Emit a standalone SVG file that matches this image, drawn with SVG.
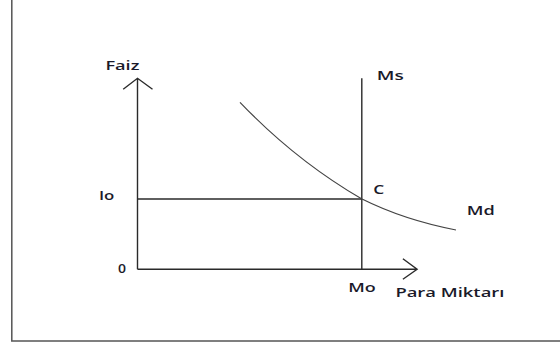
<svg xmlns="http://www.w3.org/2000/svg" width="560" height="346" viewBox="0 0 560 346">
<style>
.ax{stroke:#2a2a2a;stroke-width:1.4;fill:none}
.cv{stroke:#444;stroke-width:1.2;fill:none}
text{font-family:"Open Sans","Liberation Sans",sans-serif;font-size:13px;fill:#1a1a2a;font-weight:600}
</style>
<rect x="11.8" y="-5" width="560" height="346" fill="#fff" stroke="#555" stroke-width="1.5"/>
<g id="connectors">
<path class="ax" d="M137.5,269.3V78.3M123.2,89.3L137.5,78.3L152.5,89.3"/>
<path class="ax" d="M137.5,269.3H417.1M402.9,258.7L417.1,269.3L402.9,279.3"/>
<path class="ax" d="M361.8,78.3V269.3"/>
<path class="ax" d="M137.5,199H361.8"/>
<path class="cv" d="M240,102.3Q295,160 361.5,198.8Q404,220 456,230"/>
</g>
<g id="labels">
<text x="105.4" y="70" textLength="34" lengthAdjust="spacingAndGlyphs">Faiz</text>
<text x="376.8" y="79.5" textLength="27" lengthAdjust="spacingAndGlyphs">Ms</text>
<text x="373.2" y="193.5" textLength="11" lengthAdjust="spacingAndGlyphs">C</text>
<text x="98.9" y="200" textLength="15.4" lengthAdjust="spacingAndGlyphs">Io</text>
<text x="466.8" y="215" textLength="28" lengthAdjust="spacingAndGlyphs">Md</text>
<text x="117.9" y="273" textLength="8" lengthAdjust="spacingAndGlyphs">0</text>
<text x="348.2" y="292" textLength="27.5" lengthAdjust="spacingAndGlyphs">Mo</text>
<text x="395.4" y="297" font-weight="400" textLength="109" lengthAdjust="spacingAndGlyphs">Para Miktarı</text>
</g>
</svg>
